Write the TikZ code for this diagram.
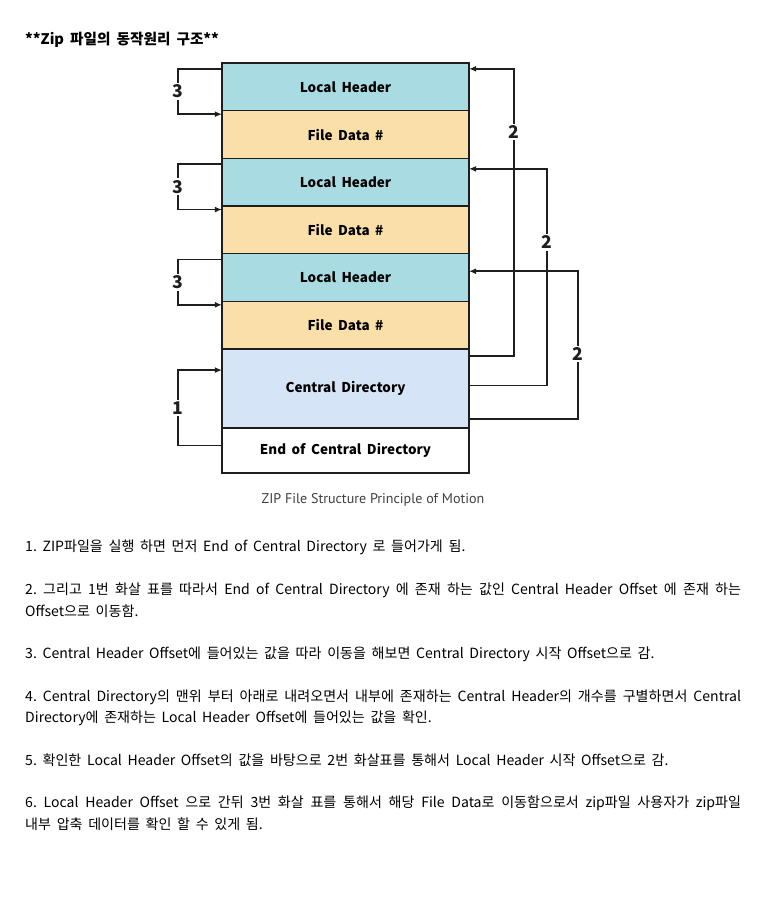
\documentclass[tikz,border=0pt]{standalone}
\usepackage{fontspec}
\setmainfont{Noto Sans CJK KR}[WordSpace=1.8]
\newfontfamily\capfont{PT Sans}
\usetikzlibrary{positioning,arrows.meta}
\definecolor{clocal}{HTML}{A8DCE2}
\definecolor{cdata}{HTML}{FADFA9}
\definecolor{ccentral}{HTML}{D5E5F7}
\definecolor{cline}{HTML}{1E1E1E}
\definecolor{ccap}{HTML}{404040}
\newlength\jw
\setlength\jw{611pt}
\newcommand\jline[1]{\makebox[\jw][s]{#1}}
\frenchspacing

\begin{document}
\begin{tikzpicture}[x=0.03cm, y=-0.03cm,
  block/.style={draw=cline, line width=1.3pt, minimum width=7.41cm, minimum height=1.43cm,
    outer sep=0pt, inner sep=0pt, font=\bfseries\fontsize{11.5}{13}\selectfont},
  link/.style={cline, line width=1.4pt, -{Latex[length=6pt,width=5pt]}},
  num/.style={fill=white, inner sep=1.5pt, font=\bfseries\fontsize{15}{17}\selectfont},
  para/.style={anchor=west, inner sep=0pt, font=\fontsize{12}{14}\selectfont}]
\useasboundingbox[fill=white] (0,0) rectangle (766,899);
%% title
\node[para, font=\bfseries\fontsize{12.5}{14}\selectfont] (title) at (25,40) {**Zip 파일의 동작원리 구조**};
%% the blocks of the file, top to bottom
\node[block, fill=clocal, anchor=north] (lh1) at (345.5,63) {Local Header};
\node[block, fill=cdata, below=0pt of lh1] (fd1) {File Data \#};
\node[block, fill=clocal, below=0pt of fd1] (lh2) {Local Header};
\node[block, fill=cdata, below=0pt of lh2] (fd2) {File Data \#};
\node[block, fill=clocal, below=0pt of fd2] (lh3) {Local Header};
\node[block, fill=cdata, below=0pt of lh3] (fd3) {File Data \#};
\node[block, fill=ccentral, minimum height=2.37cm, below=0pt of fd3] (cd) {Central Directory};
\node[block, fill=white, minimum height=1.35cm, below=0pt of cd] (eocd) {End of Central Directory};
%% 3: local header -> file data
\foreach \n in {1,2,3} {
  \draw[link] ([yshift=-5pt]lh\n.north west) -- ++(-44,0)
    |- node[num, pos=0.25] {3} ([yshift=-3pt]fd\n.north west);
}
%% 1: end of central directory -> central directory
\draw[link] ([yshift=-15pt]eocd.north west) -- ++(-44,0)
  |- node[num, pos=0.25] {1} ([yshift=-18pt]cd.north west);
%% 2: central directory -> local headers
\draw[link] ([yshift=-6pt]cd.north east) -- ++(45,0)
  |- node[num, pos=0.39] {2} ([yshift=-5pt]lh1.north east);
\draw[link] ([yshift=-31pt]cd.north east) -- ++(78,0)
  |- node[num, pos=0.33] {2} ([yshift=-9pt]lh2.north east);
\draw[link] ([yshift=-60pt]cd.north east) -- ++(109,0)
  |- node[num, pos=0.22] {2} ([yshift=-15pt]lh3.north east);
\node[font=\capfont\fontsize{12}{14}\selectfont, text=ccap] (cap) at (373,500)
  {ZIP File Structure Principle of Motion};
%% the steps
\node[para] (s1) at (25,547) {1. ZIP파일을 실행 하면 먼저 End of Central Directory 로 들어가게 됨.};
\node[para] (s2a) at (25,590) {\jline{2. 그리고 1번 화살 표를 따라서 End of Central Directory 에 존재 하는 값인 Central Header Offset 에 존재 하는}};
\node[para] (s2b) at (25,611) {Offset으로 이동함.};
\node[para] (s3) at (25,654) {3. Central Header Offset에 들어있는 값을 따라 이동을 해보면 Central Directory 시작 Offset으로 감.};
\node[para] (s4a) at (25,697) {\jline{4. Central Directory의 맨위 부터 아래로 내려오면서 내부에 존재하는 Central Header의 개수를 구별하면서 Central}};
\node[para] (s4b) at (25,718) {Directory에 존재하는 Local Header Offset에 들어있는 값을 확인.};
\node[para] (s5) at (25,760) {5. 확인한 Local Header Offset의 값을 바탕으로 2번 화살표를 통해서 Local Header 시작 Offset으로 감.};
\node[para] (s6a) at (25,803) {\jline{6. Local Header Offset 으로 간뒤 3번 화살 표를 통해서 해당 File Data로 이동함으로서 zip파일 사용자가 zip파일}};
\node[para] (s6b) at (25,824) {내부 압축 데이터를 확인 할 수 있게 됨.};
\end{tikzpicture}
\end{document}
